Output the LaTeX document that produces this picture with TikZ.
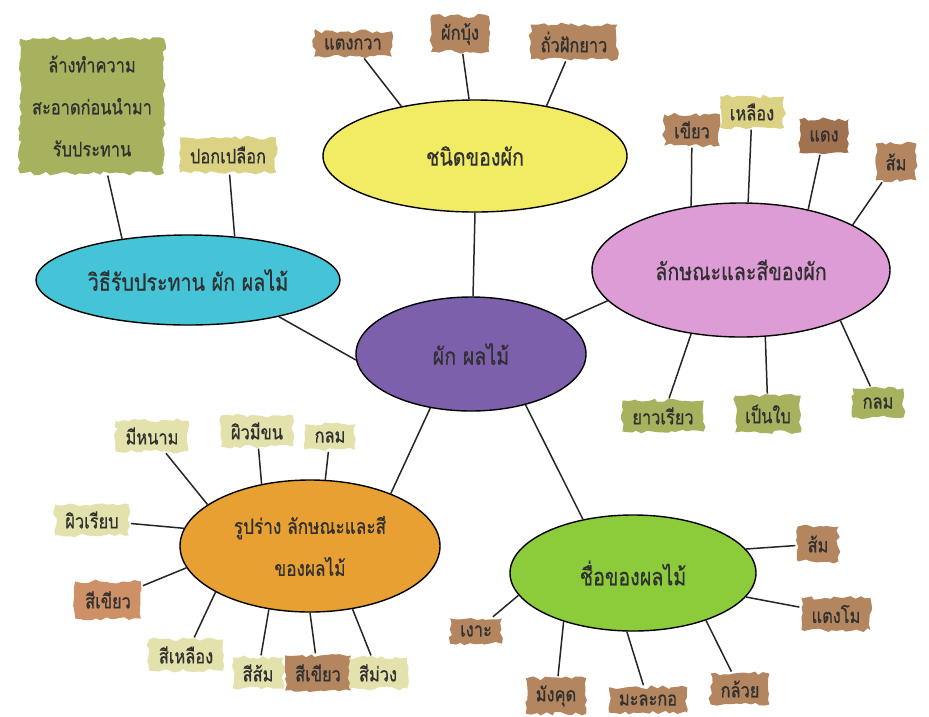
\documentclass[tikz,border=0pt]{standalone}
\usepackage{fontspec}
\newfontfamily\thai[Script=Thai,FakeStretch=0.82,FakeBold=0.6]{Loma}
\usetikzlibrary{shapes.geometric,decorations.pathmorphing}
\definecolor{txt}{HTML}{303030}
\definecolor{cyel}{HTML}{F2EC64}
\definecolor{cpnk}{HTML}{DE9CD6}
\definecolor{ccyn}{HTML}{44C4D6}
\definecolor{cpur}{HTML}{7C60AC}
\definecolor{corg}{HTML}{E9A033}
\definecolor{cgrn}{HTML}{8CCB3A}
\definecolor{brw}{HTML}{B48660}
\definecolor{dbrw}{HTML}{A07250}
\definecolor{olv}{HTML}{A8B25E}
\definecolor{kha}{HTML}{DCD284}
\definecolor{pal}{HTML}{E4E2AC}
\definecolor{obr}{HTML}{CE9066}
\begin{document}
\pgfmathsetseed{7}
\begin{tikzpicture}[x=1pt,y=-1pt,
  bub/.style={ellipse, draw=black, line width=1.4pt, inner sep=0pt, text=txt,
    font=\thai\fontsize{24}{26}\selectfont},
  lab/.style={inner xsep=10pt, inner ysep=7pt, text=txt,
    font=\thai\fontsize{20}{22}\selectfont,
    decorate, decoration={random steps, segment length=5pt, amplitude=2pt}},
  con/.style={draw=black!85, line width=1.5pt, shorten <=2pt}
]
\fill[white] (0,0) rectangle (929,716);
\useasboundingbox (0,0) rectangle (929,716);

% main bubbles
\node[bub, fill=cyel, minimum width=304pt, minimum height=112pt] (yel) at (475,156) {ชนิดของผัก};
\node[bub, fill=cpur, minimum width=230pt, minimum height=114pt] (pur) at (471,354) {ผัก ผลไม้};
\node[bub, fill=cpnk, minimum width=298pt, minimum height=134pt] (pnk) at (741,270) {ลักษณะและสีของผัก};
\node[bub, fill=ccyn, minimum width=304pt, minimum height=90pt] (cyn) at (188,280) {วิธีรับประทาน ผัก ผลไม้};
\node[bub, fill=corg, minimum width=260pt, minimum height=132pt, align=center,
  font=\thai\fontsize{21}{42}\selectfont] (org) at (310,546) {รูปร่าง ลักษณะและสี\\ของผลไม้};
\node[bub, fill=cgrn, minimum width=246pt, minimum height=116pt] (grn) at (633,573) {ชื่อของผลไม้};

% labels: kinds of vegetables
\node[lab, fill=brw] (l1) at (353,44) {แตงกวา};
\node[lab, fill=brw] (l2) at (460,34) {ผักบุ้ง};
\node[lab, fill=brw] (l3) at (574,42) {ถั่วฝักยาว};
% labels: vegetable colour and shape
\node[lab, fill=brw] (p1) at (692,130) {เขียว};
\node[lab, fill=kha] (p2) at (752,112) {เหลือง};
\node[lab, fill=dbrw, inner ysep=11pt] (p3) at (824,136) {แดง};
\node[lab, fill=brw, inner ysep=10pt] (p4) at (896,162) {ส้ม};
\node[lab, fill=olv] (p5) at (663,416) {ยาวเรียว};
\node[lab, fill=olv, inner ysep=9pt] (p6) at (768,414) {เป็นใบ};
\node[lab, fill=olv, inner ysep=9pt] (p7) at (878,403) {กลม};
% labels: how to eat
\node[lab, fill=olv, align=center, inner xsep=12pt, inner ysep=17pt,
  font=\thai\fontsize{20}{42}\selectfont] (c1) at (92,106) {ล้างทำความ\\สะอาดก่อนนำมา\\รับประทาน};
\node[lab, fill=kha, inner ysep=9pt] (c2) at (228,155) {ปอกเปลือก};
% labels: fruit shape and colour
\node[lab, fill=pal] (o1) at (152,436) {มีหนาม};
\node[lab, fill=pal] (o2) at (257,431) {ผิวมีขน};
\node[lab, fill=pal] (o3) at (330,437) {กลม};
\node[lab, fill=pal] (o4) at (92,520) {ผิวเรียบ};
\node[lab, fill=obr, inner ysep=10pt] (o5) at (108,600) {สีเขียว};
\node[lab, fill=pal] (o6) at (186,655) {สีเหลือง};
\node[lab, fill=pal] (o7) at (258,673) {สีส้ม};
\node[lab, fill=brw, inner ysep=9pt] (o8) at (318,673) {สีเขียว};
\node[lab, fill=pal] (o9) at (378,673) {สีม่วง};
% labels: fruit names
\node[lab, fill=brw, inner ysep=9pt] (g1) at (818,544) {ส้ม};
\node[lab, fill=brw] (g2) at (836,614) {แตงโม};
\node[lab, fill=brw] (g3) at (476,631) {เงาะ};
\node[lab, fill=brw] (g4) at (556,696) {มังคุด};
\node[lab, fill=brw] (g5) at (648,700) {มะละกอ};
\node[lab, fill=brw] (g6) at (740,689) {กล้วย};

% centre connectors
\draw[con, shorten <=0pt] (yel.270) -- (pur.88);
\draw[con, shorten <=0pt] (pur.20) -- (pnk.193);
\draw[con, shorten <=0pt] (cyn.338) -- (pur.183);
\draw[con, shorten <=0pt] (pur.233) -- (org.33);
\draw[con, shorten <=0pt] (pur.317) -- (grn.133);

% label connectors
\draw[con] (l1) -- (yel.146);
\draw[con] (l2) -- (yel.96);
\draw[con] (l3) -- (yel.35);
\draw[con] (p1) -- (pnk.128);
\draw[con] (p2) -- (pnk.84);
\draw[con] (p3) -- (pnk.42);
\draw[con] (p4) -- (pnk.22);
\draw[con] (p5) -- (pnk.232);
\draw[con] (p6) -- (pnk.290);
\draw[con] (p7) -- (pnk.333);
\draw[con] (c1) -- (cyn.148);
\draw[con] (c2) -- (cyn.43);
\draw[con] (o1) -- (org.158);
\draw[con] (o2) -- (org.128);
\draw[con] (o3) -- (org.77);
\draw[con] (o4) -- (org.172);
\draw[con] (o5) -- (org.190);
\draw[con] (o6) -- (org.206);
\draw[con] (o7) -- (org.237);
\draw[con] (o8) -- (org.270);
\draw[con] (o9) -- (org.304);
\draw[con] (g1) -- (grn.12);
\draw[con] (g2) -- (grn.348);
\draw[con] (g3) -- (grn.191);
\draw[con] (g4) -- (grn.215);
\draw[con] (g5) -- (grn.264);
\draw[con] (g6) -- (grn.327);
\end{tikzpicture}
\end{document}
